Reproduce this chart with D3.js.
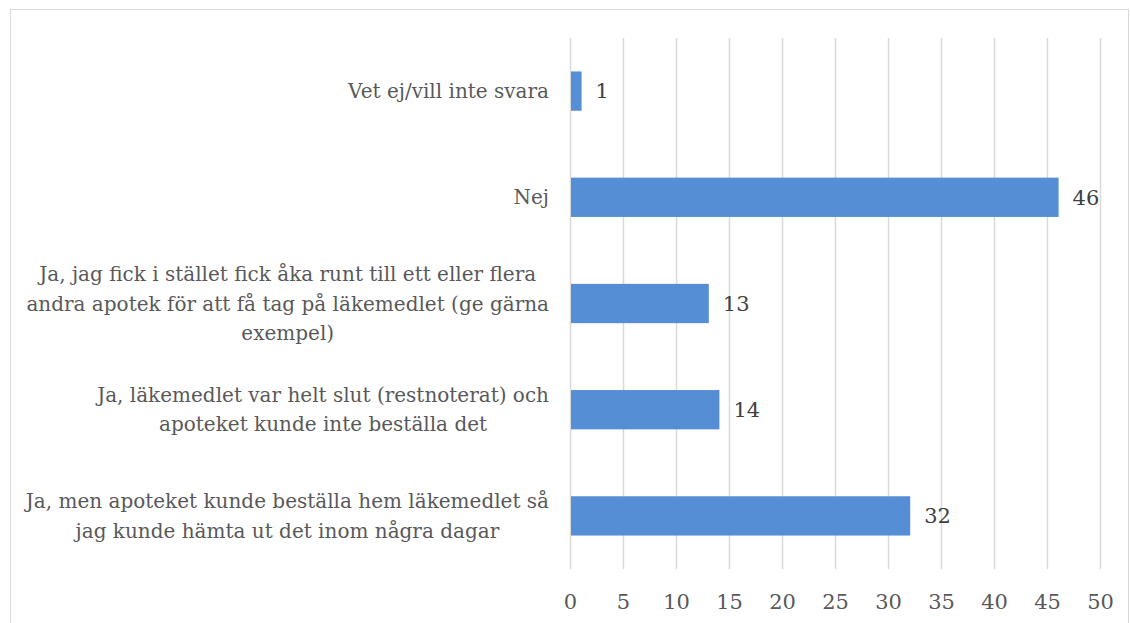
<!DOCTYPE html>
<html><head><meta charset="utf-8">
<script src="https://cdn.jsdelivr.net/npm/d3@7"></script>
<style>body{margin:0;background:#fff;} svg{display:block;}</style>
</head><body>
<svg id="chart" width="1130" height="623"></svg>
<script>
const categories = [
  ["Vet ej/vill inte svara"],
  ["Nej"],
  ["Ja, jag fick i stället fick åka runt till ett eller flera", "andra apotek för att få tag på läkemedlet (ge gärna", "exempel)"],
  ["Ja, läkemedlet var helt slut (restnoterat) och", "apoteket kunde inte beställa det"],
  ["Ja, men apoteket kunde beställa hem läkemedlet så", "jag kunde hämta ut det inom några dagar"]
];
const values = [1, 46, 13, 14, 32];
const xTicks = [0, 5, 10, 15, 20, 25, 30, 35, 40, 45, 50];

const svg = d3.select("#chart");
const font = "'DejaVu Serif', serif";
const fs = 20;
const fsNum = 21;

svg.append("rect").attr("x", 10.5).attr("y", 9.5).attr("width", 1118).attr("height", 640)
  .attr("fill", "none").attr("stroke", "#d9d9d9").attr("stroke-width", 1);

const x = d3.scaleLinear().domain([0, 50]).range([570, 1100]);
const y = d3.scaleBand().domain(d3.range(categories.length)).range([38, 569]).paddingInner(0.63).paddingOuter(0.315);

const gx = svg.append("g").attr("transform", "translate(0,569)")
  .call(d3.axisBottom(x).tickValues(xTicks).tickSize(-531).tickPadding(22).tickFormat(d3.format("d")));
gx.select(".domain").remove();
gx.selectAll(".tick line").attr("stroke", "#d9d9d9").attr("stroke-width", 1.5);
gx.selectAll(".tick text").attr("fill", "#595959").attr("font-family", font).attr("font-size", fsNum).attr("dy", "0.35em").attr("y", 33);

svg.append("g").selectAll("rect").data(values).join("rect")
  .attr("x", x(0) + 1).attr("y", (d, i) => y(i))
  .attr("width", d => x(d) - x(0)).attr("height", y.bandwidth())
  .attr("fill", "#558ed5");

svg.append("g").selectAll("text").data(values).join("text")
  .attr("x", d => x(d) + 15).attr("y", (d, i) => y(i) + y.bandwidth() / 2)
  .attr("dy", "0.35em").attr("fill", "#404040").attr("font-family", font).attr("font-size", fsNum)
  .text(d => d);

const lh = 29.5;
const lab = svg.append("g").attr("font-family", font).attr("font-size", fs).attr("fill", "#595959");
categories.forEach((lines, i) => {
  const cy = y(i) + y.bandwidth() / 2;
  const t = lab.append("text").attr("text-anchor", "middle");
  lines.forEach((ln, j) => {
    t.append("tspan").attr("y", cy + (j - (lines.length - 1) / 2) * lh).attr("dy", "0.35em").text(ln);
  });
  let w = 0;
  t.selectAll("tspan").each(function () { w = Math.max(w, this.getComputedTextLength()); });
  t.selectAll("tspan").attr("x", 549 - w / 2);
});
</script>
</body></html>
